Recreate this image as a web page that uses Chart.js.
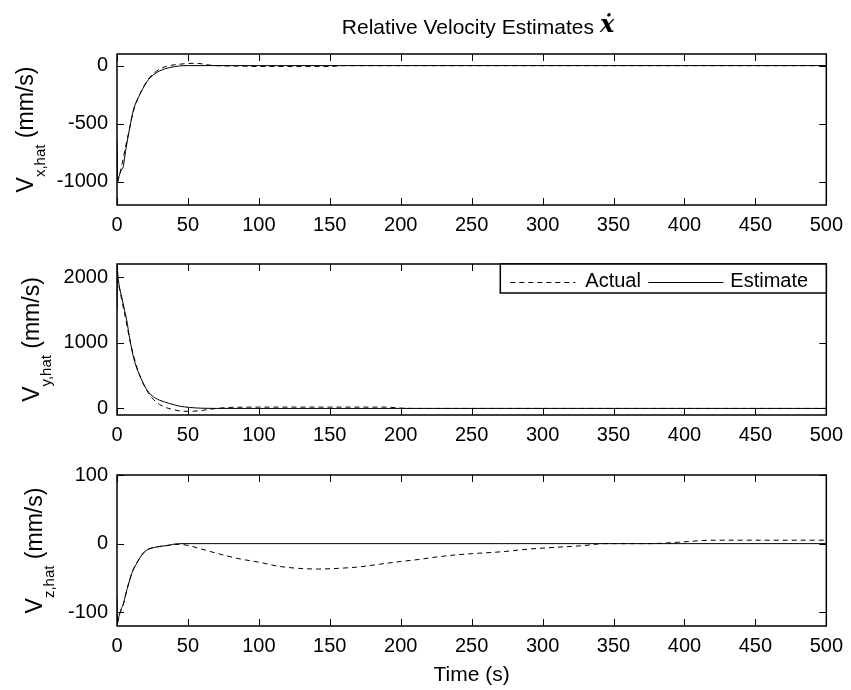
<!DOCTYPE html>
<html>
<head>
<meta charset="utf-8">
<script src="https://cdn.jsdelivr.net/npm/chart.js@4.4.0/dist/chart.umd.min.js"></script>
<style>
  html, body { margin: 0; padding: 0; background: #fff; }
  #wrap { position: relative; width: 851px; height: 690px; background: #fff; }
  canvas { position: absolute; left: 0; }
</style>
</head>
<body>
<div id="wrap">
  <canvas id="c1" width="851" height="235" style="top:0px"></canvas>
  <canvas id="c2" width="851" height="210" style="top:235px"></canvas>
  <canvas id="c3" width="851" height="245" style="top:445px"></canvas>
</div>
<script>
// x axis (time, s)
const timeTicks = [0, 50, 100, 150, 200, 250, 300, 350, 400, 450, 500];

// V_x,hat
const vxTicks = [-1000, -500, 0];
const tVxActual = [0, 2, 4.4, 6, 8, 11.4, 16.1, 23.1, 30.1, 37.1, 44, 50, 55, 60, 65, 70, 90, 100, 150, 160, 500];
const vxActual = [-1000, -930, -800, -700, -590, -400, -245, -100, -30, 0, 12, 18, 20, 15, 5, 0, -5, -8, -8, 0, 0];
const tVxEst = [0, 0.5, 1.5, 3, 4.4, 6, 8, 11.4, 13.5, 16.1, 19.5, 23.1, 26.5, 30.1, 37.1, 44.1, 50, 500];
const vxEstimate = [-650, -1000, -950, -900, -870, -740, -600, -390, -315, -248, -170, -107, -72, -45, -17, -3, 0, 0];

// V_y,hat
const vyTicks = [0, 1000, 2000];
const tVyActual = [0, 2, 4, 6, 8, 10, 12, 15, 18, 22, 26, 30, 35, 40, 45, 50, 55, 60, 70, 80, 100, 150, 190, 200, 210, 500];
const vyActual = [2000, 1800, 1580, 1380, 1150, 950, 780, 560, 400, 240, 130, 60, 10, -20, -40, -45, -40, -30, 0, 15, 20, 20, 20, 5, 0, 0];
const tVyEst = [0, 0.3, 1, 2, 3.3, 5, 6.8, 9, 11.4, 13.5, 16.1, 19.5, 23.1, 26.5, 30.1, 37.1, 44.1, 51.1, 60, 70, 500];
const vyEstimate = [1500, 2100, 1950, 1820, 1700, 1530, 1350, 1060, 800, 640, 500, 340, 226, 165, 125, 75, 35, 15, 3, 0, 0];

// V_z,hat
const vzTicks = [-100, 0, 100];
const tVzActual = [0, 2, 4.5, 6, 8.5, 11, 13.5, 17, 20.5, 27.5, 34.5, 44, 51, 58, 72, 86, 100, 114, 128, 142, 156, 170, 185, 200, 213, 227, 241, 255, 270, 290, 304, 328, 344, 375, 395, 420, 500];
const vzActual = [-115, -102, -88, -75, -56, -40, -30, -18, -10, -5, -3, -1, -3, -7, -15, -22, -27, -33, -36, -37, -36, -34, -30, -26, -23, -19, -16, -14, -12, -8, -6, -3, 0, 0, 2, 5, 5];
const tVzEst = [0, 0.5, 1.5, 3, 4.5, 6, 8.5, 11, 13.5, 17, 20.5, 27.5, 34.5, 44, 500];
const vzEstimate = [-80, -115, -105, -95, -88, -75, -56, -40, -30, -18, -10, -5, -3, 0, 0];

const FONT = '"Liberation Sans", Arial, sans-serif';

// MATLAB-like box, inward ticks on all sides, y label with subscript, title and legend
const matlabAxes = {
  id: 'matlabAxes',
  afterDatasetsDraw(chart, args, opts) {
    const ctx = chart.ctx;
    const a = chart.chartArea;
    const xs = chart.scales.x, ys = chart.scales.y;
    const tl = 7;
    ctx.save();
    ctx.strokeStyle = '#000';
    ctx.fillStyle = '#000';
    ctx.lineWidth = 1;
    ctx.beginPath();
    xs.ticks.forEach(t => {
      const px = Math.round(xs.getPixelForValue(t.value)) + 0.5;
      ctx.moveTo(px, a.bottom); ctx.lineTo(px, a.bottom - tl);
      ctx.moveTo(px, a.top); ctx.lineTo(px, a.top + tl);
    });
    ys.ticks.forEach(t => {
      const py = Math.round(ys.getPixelForValue(t.value)) + 0.5;
      ctx.moveTo(a.left, py); ctx.lineTo(a.left + tl, py);
      ctx.moveTo(a.right, py); ctx.lineTo(a.right - tl, py);
    });
    ctx.stroke();
    ctx.lineWidth = 1.5;
    ctx.strokeRect(a.left, a.top, a.right - a.left, a.bottom - a.top);

    // y label: V_{sub} (mm/s)
    ctx.save();
    ctx.translate(opts.labelX, (a.top + a.bottom) / 2);
    ctx.rotate(-Math.PI / 2);
    const big = '23px ' + FONT, small = '15px ' + FONT;
    ctx.font = big;
    const wV = ctx.measureText('V').width;
    const wU = ctx.measureText(' (mm/s)').width;
    ctx.font = small;
    const wS = ctx.measureText(opts.sub).width;
    const x0 = -(wV + wS + wU) / 2;
    ctx.textAlign = 'left';
    ctx.textBaseline = 'alphabetic';
    ctx.font = big; ctx.fillText('V', x0, 0);
    ctx.font = small; ctx.fillText(opts.sub, x0 + wV, 12);
    ctx.font = big; ctx.fillText(' (mm/s)', x0 + wV + wS, 0);
    ctx.restore();

    if (opts.title) {
      ctx.font = '21px ' + FONT;
      const wT = ctx.measureText(opts.title).width;
      ctx.font = 'bold italic 24px "DejaVu Serif", serif';
      const wX = ctx.measureText('\u1E8B').width;
      const cx = 478;
      const left = cx - (wT + 6 + wX) / 2;
      ctx.textBaseline = 'middle';
      ctx.textAlign = 'left';
      ctx.font = '21px ' + FONT;
      ctx.fillText(opts.title, left, 28);
      ctx.font = 'bold italic 24px "DejaVu Serif", serif';
      ctx.fillText('\u1E8B', left + wT + 6, 26);
    }

    if (opts.legend) {
      const bw = 326, bh = 29;
      const L = a.right - bw, T = a.top;
      ctx.fillStyle = '#fff';
      ctx.fillRect(L, T, bw, bh);
      ctx.lineWidth = 1.5;
      ctx.strokeRect(L, T, bw, bh);
      const cy = T + 18;
      ctx.fillStyle = '#000';
      ctx.font = '20px ' + FONT;
      ctx.textBaseline = 'middle';
      ctx.textAlign = 'left';
      const ds = chart.data.datasets;
      const items = [
        { d: ds[0], x1: L + 10, x2: L + 75, tx: L + 85 },
        { d: ds[1], x1: L + 148, x2: L + 223, tx: L + 230 }
      ];
      items.forEach(it => {
        ctx.save();
        ctx.lineWidth = 1;
        ctx.setLineDash(it.d.borderDash || []);
        ctx.beginPath();
        ctx.moveTo(it.x1, cy + 0.5); ctx.lineTo(it.x2, cy + 0.5);
        ctx.stroke();
        ctx.restore();
        ctx.fillText(it.d.label, it.tx, cy - 1);
      });
    }
    ctx.restore();
  }
};

function pts(t, v) { return t.map((x, i) => ({ x: x, y: v[i] })); }

function makeChart(id, c) {
  return new Chart(document.getElementById(id), {
    type: 'line',
    data: {
      datasets: [
        { label: 'Actual', data: pts(c.tA, c.vA), borderColor: '#000', borderWidth: 1, borderDash: [5, 4], pointRadius: 0, fill: false, cubicInterpolationMode: 'monotone' },
        { label: 'Estimate', data: pts(c.tE, c.vE), borderColor: '#000', borderWidth: 1, pointRadius: 0, fill: false, cubicInterpolationMode: 'monotone' }
      ]
    },
    options: {
      responsive: false,
      animation: false,
      events: [],
      layout: { padding: { top: c.padTop, right: 20, left: 0, bottom: 0 } },
      plugins: {
        legend: { display: false },
        tooltip: { enabled: false },
        matlabAxes: { sub: c.sub, labelX: c.labelX, title: c.title, legend: c.legend }
      },
      scales: {
        x: {
          type: 'linear', min: 0, max: 500,
          afterBuildTicks: s => { s.ticks = timeTicks.map(v => ({ value: v })); },
          afterFit: s => { s.height = c.xH; },
          grid: { display: false, drawTicks: false },
          border: { display: false },
          ticks: { font: { family: FONT, size: 20 }, color: '#000', padding: 8, maxRotation: 0, autoSkip: false, callback: v => String(v) },
          title: c.xTitle ? { display: true, text: c.xTitle, color: '#000', font: { family: FONT, size: 21 }, padding: { top: 0, bottom: 2 } } : { display: false }
        },
        y: {
          type: 'linear', min: c.yMin, max: c.yMax,
          afterBuildTicks: s => { s.ticks = c.yTicks.map(v => ({ value: v })); },
          afterFit: s => { s.width = 117; },
          grid: { display: false, drawTicks: false },
          border: { display: false },
          ticks: { font: { family: FONT, size: 20 }, color: '#000', padding: 9, callback: v => String(v) }
        }
      }
    },
    plugins: [matlabAxes]
  });
}

makeChart('c1', { tA: tVxActual, vA: vxActual, tE: tVxEst, vE: vxEstimate, yMin: -1200, yMax: 100, yTicks: vxTicks,
  padTop: 54, xH: 30, sub: 'x,hat', labelX: 33, title: 'Relative Velocity Estimates' });
makeChart('c2', { tA: tVyActual, vA: vyActual, tE: tVyEst, vE: vyEstimate, yMin: -100, yMax: 2200, yTicks: vyTicks,
  padTop: 29, xH: 30, sub: 'y,hat', labelX: 39, legend: true });
makeChart('c3', { tA: tVzActual, vA: vzActual, tE: tVzEst, vE: vzEstimate, yMin: -120, yMax: 100, yTicks: vzTicks,
  padTop: 30, xH: 64, sub: 'z,hat', labelX: 42, xTitle: 'Time (s)' });
</script>
</body>
</html>
